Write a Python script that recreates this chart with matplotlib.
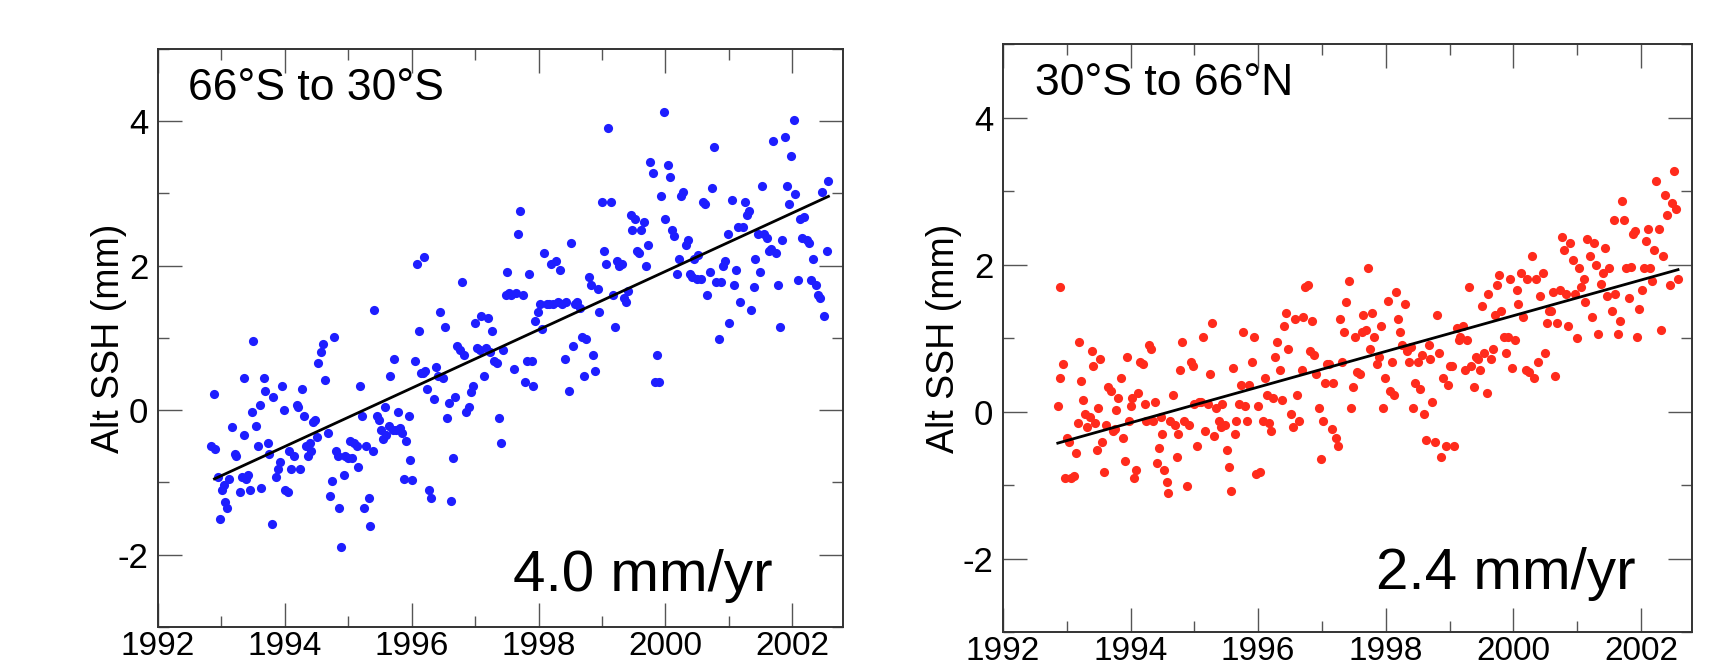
import numpy as np
import matplotlib
matplotlib.use("Agg")
import matplotlib.pyplot as plt
from matplotlib.ticker import MultipleLocator

plt.rcParams['font.family'] = ['Liberation Sans', 'DejaVu Sans']
plt.rcParams['axes.unicode_minus'] = False

# Données : (année, SSH en mm)
sud_pts = [
    (1992.89, 0.22), (1992.84, -0.49), (1992.90, -0.54), (1992.95, -0.92), (1992.97, -1.50),
    (1993.01, -1.10), (1993.04, -1.04), (1993.06, -1.27), (1993.09, -1.36), (1993.12, -0.95),
    (1993.16, -0.23), (1993.22, -0.60), (1993.23, -0.63), (1993.29, -1.13), (1993.32, -0.92),
    (1993.36, 0.45), (1993.36, -0.34), (1993.39, -0.95), (1993.42, -0.89), (1993.45, -1.10),
    (1993.48, -0.02), (1993.49, 0.96), (1993.55, -0.22), (1993.58, -0.49), (1993.61, 0.07),
    (1993.62, -1.07), (1993.67, 0.45), (1993.69, 0.27), (1993.73, -0.46), (1993.75, -0.60),
    (1993.79, -1.57), (1993.82, 0.19), (1993.86, -0.92), (1993.89, -0.81), (1993.93, -0.72),
    (1993.96, 0.33), (1993.98, 0.01), (1994.01, -1.10), (1994.05, -1.13), (1994.07, -0.57),
    (1994.10, -0.81), (1994.14, -0.63), (1994.19, 0.07), (1994.21, 0.04), (1994.24, -0.81),
    (1994.27, 0.30), (1994.30, -0.08), (1994.34, -0.49), (1994.36, -0.63), (1994.39, -0.46),
    (1994.41, -0.57), (1994.45, -0.16), (1994.47, -0.13), (1994.51, -0.37), (1994.53, 0.65),
    (1994.57, 0.80), (1994.60, 0.92), (1994.64, 0.42), (1994.68, -0.31), (1994.71, -1.19),
    (1994.74, -0.98), (1994.78, 1.01), (1994.81, -0.57), (1994.84, -0.63), (1994.86, -1.36),
    (1994.89, -1.89), (1994.93, -0.89), (1994.95, -0.63), (1994.99, -0.66), (1995.02, -0.43),
    (1995.06, -0.66), (1995.09, -0.46), (1995.13, -0.49), (1995.16, -0.78), (1995.19, 0.33),
    (1995.22, -0.08), (1995.25, -1.36), (1995.28, -0.49), (1995.32, -1.22), (1995.35, -1.60),
    (1995.39, -0.57), (1995.41, 1.39), (1995.45, -0.08), (1995.48, -0.13), (1995.52, -0.28),
    (1995.55, -0.40), (1995.58, 0.04), (1995.60, -0.34), (1995.64, -0.22), (1995.66, 0.48),
    (1995.70, -0.28), (1995.72, 0.71), (1995.76, -0.28), (1995.78, -0.02), (1995.82, -0.25),
    (1995.85, -0.31), (1995.88, -0.95), (1995.91, -0.43), (1995.95, -0.08), (1995.98, -0.69),
    (1996.01, -0.97), (1996.05, 0.68), (1996.08, 2.03), (1996.11, 1.09), (1996.15, 0.51),
    (1996.18, 0.51), (1996.20, 2.12), (1996.21, 0.54), (1996.24, 0.30), (1996.28, -1.10),
    (1996.31, -1.22), (1996.35, 0.16), (1996.38, 0.60), (1996.42, 0.48), (1996.45, 1.36),
    (1996.49, 0.45), (1996.52, 1.15), (1996.56, -0.11), (1996.59, 0.10), (1996.62, -1.25),
    (1996.65, -0.66), (1996.69, 0.19), (1996.72, 0.89), (1996.76, 0.83), (1996.79, 1.77),
    (1996.83, 0.77), (1996.86, -0.02), (1996.90, 0.04), (1996.93, 0.25), (1996.97, 0.33),
    (1997.00, 1.21), (1997.03, 0.86), (1997.07, 0.83), (1997.10, 1.30), (1997.14, 0.48),
    (1997.17, 0.86), (1997.21, 1.27), (1997.24, 0.80), (1997.27, 1.09), (1997.30, 0.68),
    (1997.34, 0.65), (1997.37, -0.11), (1997.41, -0.46), (1997.44, 0.83), (1997.48, 1.59),
    (1997.50, 1.91), (1997.54, 1.62), (1997.57, 1.59), (1997.61, 0.57), (1997.64, 1.62),
    (1997.68, 2.44), (1997.71, 2.76), (1997.75, 1.59), (1997.78, 0.39), (1997.82, 0.68),
    (1997.85, 1.88), (1997.89, 0.68), (1997.92, 0.33), (1997.95, 1.24), (1997.99, 1.36),
    (1998.02, 1.47), (1998.06, 1.12), (1998.09, 2.18), (1998.13, 1.47), (1998.16, 1.47),
    (1998.20, 2.03), (1998.23, 1.47), (1998.27, 2.06), (1998.30, 1.50), (1998.34, 1.94),
    (1998.37, 1.47), (1998.41, 0.71), (1998.44, 1.50), (1998.48, 0.27), (1998.51, 2.32),
    (1998.55, 0.89), (1998.58, 1.47), (1998.61, 1.50), (1998.65, 1.42), (1998.68, 1.01),
    (1998.72, 0.48), (1998.75, 0.98), (1998.79, 1.85), (1998.82, 1.74), (1998.86, 0.77),
    (1998.89, 0.54), (1998.93, 1.68), (1998.96, 1.36), (1999.00, 2.88), (1999.03, 2.20),
    (1999.07, 2.03), (1999.10, 3.90), (1999.14, 2.88), (1999.17, 1.59), (1999.20, 1.15),
    (1999.24, 2.06), (1999.27, 2.00), (1999.31, 2.03), (1999.34, 1.56), (1999.38, 1.50),
    (1999.41, 1.65), (1999.45, 2.70), (1999.48, 2.50), (1999.52, 2.64), (1999.55, 2.20),
    (1999.59, 2.18), (1999.62, 2.50), (1999.66, 2.61), (1999.69, 2.00), (1999.73, 2.29),
    (1999.76, 3.43), (1999.80, 3.29), (1999.83, 0.39), (1999.86, 0.77), (1999.90, 0.39),
    (1999.93, 2.96), (1999.97, 4.13), (2000.00, 2.64), (2000.04, 3.40), (2000.07, 3.23),
    (2000.11, 2.50), (2000.14, 2.41), (2000.18, 1.88), (2000.21, 2.09), (2000.25, 2.96),
    (2000.28, 3.02), (2000.32, 2.29), (2000.35, 2.35), (2000.39, 1.88), (2000.42, 1.85),
    (2000.45, 2.09), (2000.49, 1.82), (2000.52, 2.15), (2000.56, 1.82), (2000.59, 2.88),
    (2000.63, 2.85), (2000.66, 1.59), (2000.70, 1.91), (2000.73, 3.08), (2000.77, 3.64),
    (2000.80, 1.77), (2000.84, 0.98), (2000.87, 1.77), (2000.91, 2.00), (2000.94, 2.06),
    (2000.98, 2.44), (2001.01, 1.21), (2001.05, 2.91), (2001.08, 1.74), (2001.11, 1.94),
    (2001.15, 2.53), (2001.18, 1.50), (2001.22, 2.53), (2001.25, 2.88), (2001.29, 2.70),
    (2001.32, 2.76), (2001.35, 1.39), (2001.39, 1.71), (2001.42, 2.09), (2001.46, 2.44),
    (2001.49, 1.91), (2001.53, 3.11), (2001.56, 2.44), (2001.60, 2.38), (2001.64, 2.20),
    (2001.67, 2.23), (2001.70, 3.73), (2001.74, 2.18), (2001.77, 1.74), (2001.81, 1.15),
    (2001.84, 2.35), (2001.88, 3.78), (2001.91, 3.11), (2001.95, 2.85), (2001.98, 3.52),
    (2002.02, 4.02), (2002.05, 2.99), (2002.09, 1.80), (2002.12, 2.64), (2002.16, 2.38),
    (2002.19, 2.67), (2002.23, 2.35), (2002.26, 2.32), (2002.30, 1.80), (2002.33, 2.09),
    (2002.37, 1.74), (2002.40, 1.59), (2002.44, 1.56), (2002.47, 3.02), (2002.50, 1.30),
    (2002.54, 2.20), (2002.57, 3.17),
]

nord_pts = [
    (1992.86, 0.07), (1992.89, 0.45), (1992.90, 1.69), (1992.94, 0.65), (1992.97, -0.90),
    (1993.00, -0.36), (1993.04, -0.41), (1993.07, -0.90), (1993.11, -0.88), (1993.14, -0.56),
    (1993.17, -0.16), (1993.20, 0.94), (1993.22, 0.42), (1993.26, 0.16), (1993.29, -0.04),
    (1993.32, -0.21), (1993.36, -0.07), (1993.39, 0.82), (1993.41, 0.62), (1993.44, -0.16),
    (1993.47, -0.53), (1993.49, 0.05), (1993.52, 0.71), (1993.55, -0.41), (1993.59, -0.82),
    (1993.62, -0.18), (1993.65, 0.33), (1993.69, 0.28), (1993.72, -0.27), (1993.75, -0.24),
    (1993.78, 0.02), (1993.81, 0.19), (1993.85, 0.45), (1993.88, -0.36), (1993.91, -0.67),
    (1993.94, 0.74), (1993.97, -0.13), (1994.00, 0.07), (1994.03, 0.19), (1994.06, -0.90),
    (1994.08, -0.79), (1994.12, 0.25), (1994.15, 0.68), (1994.19, 0.65), (1994.22, 0.10),
    (1994.25, -0.13), (1994.29, 0.91), (1994.32, 0.85), (1994.35, -0.13), (1994.38, 0.13),
    (1994.41, -0.70), (1994.44, -0.50), (1994.47, -0.07), (1994.50, -0.30), (1994.53, -0.79),
    (1994.57, -0.96), (1994.59, -1.11), (1994.62, -0.13), (1994.66, 0.22), (1994.69, -0.18),
    (1994.73, -0.62), (1994.75, -0.30), (1994.78, 0.56), (1994.81, 0.94), (1994.84, -0.13),
    (1994.88, -1.02), (1994.91, -0.18), (1994.95, 0.68), (1994.98, 0.62), (1995.00, 0.10),
    (1995.04, -0.47), (1995.07, 0.13), (1995.11, 0.13), (1995.14, 1.02), (1995.17, -0.27),
    (1995.21, 0.10), (1995.24, 0.51), (1995.27, 1.20), (1995.31, -0.33), (1995.34, 0.05),
    (1995.38, -0.13), (1995.41, -0.21), (1995.44, 0.10), (1995.48, -0.18), (1995.51, -0.53),
    (1995.54, -0.76), (1995.58, -1.08), (1995.60, 0.59), (1995.64, -0.30), (1995.66, -0.13),
    (1995.70, 0.10), (1995.73, 0.36), (1995.76, 1.08), (1995.80, 0.07), (1995.83, -0.13),
    (1995.86, 0.36), (1995.90, 0.68), (1995.93, 1.02), (1995.97, -0.85), (1996.00, 0.07),
    (1996.03, -0.82), (1996.07, -0.13), (1996.10, 0.45), (1996.14, 0.22), (1996.17, -0.16),
    (1996.20, -0.27), (1996.24, 0.19), (1996.27, 0.74), (1996.30, 0.94), (1996.34, 0.56),
    (1996.37, 0.16), (1996.41, 1.17), (1996.44, 1.34), (1996.47, 0.85), (1996.51, -0.04),
    (1996.54, -0.21), (1996.57, 1.26), (1996.61, 0.22), (1996.64, -0.13), (1996.68, 0.56),
    (1996.71, 1.28), (1996.74, 1.69), (1996.78, 1.72), (1996.81, 0.82), (1996.84, 1.23),
    (1996.88, 0.77), (1996.91, 0.51), (1996.95, 0.05), (1996.98, -0.64), (1997.01, -0.13),
    (1997.05, 0.39), (1997.08, 0.65), (1997.11, 0.65), (1997.15, -0.24), (1997.18, 0.39),
    (1997.22, -0.36), (1997.25, -0.47), (1997.28, 1.26), (1997.32, 0.68), (1997.35, 1.08),
    (1997.38, 1.49), (1997.42, 1.77), (1997.45, 0.05), (1997.49, 0.33), (1997.52, 1.02),
    (1997.55, 0.54), (1997.59, 0.51), (1997.62, 1.08), (1997.65, 1.31), (1997.69, 1.11),
    (1997.72, 1.95), (1997.76, 0.85), (1997.79, 1.34), (1997.82, 1.02), (1997.86, 0.65),
    (1997.89, 0.74), (1997.92, 1.17), (1997.96, 0.05), (1997.99, 0.45), (1998.03, 1.51),
    (1998.06, 0.28), (1998.09, 0.68), (1998.13, 0.22), (1998.16, 1.63), (1998.19, 1.26),
    (1998.23, 1.08), (1998.26, 0.91), (1998.30, 1.46), (1998.33, 0.82), (1998.36, 0.68),
    (1998.40, 0.88), (1998.43, 0.05), (1998.46, 0.39), (1998.50, 0.68), (1998.53, 0.31),
    (1998.57, 0.77), (1998.60, -0.04), (1998.63, -0.39), (1998.67, 0.91), (1998.70, 0.71),
    (1998.73, 0.13), (1998.77, -0.41), (1998.80, 1.31), (1998.84, 0.79), (1998.87, -0.62),
    (1998.90, 0.45), (1998.94, -0.47), (1998.97, 0.36), (1999.00, 0.62), (1999.04, 0.62),
    (1999.07, -0.47), (1999.11, 1.14), (1999.14, 0.97), (1999.17, 1.02), (1999.21, 1.17),
    (1999.24, 0.56), (1999.27, 0.97), (1999.31, 1.69), (1999.34, 0.62), (1999.38, 0.33),
    (1999.41, 0.74), (1999.44, 0.71), (1999.48, 0.56), (1999.51, 1.43), (1999.54, 0.79),
    (1999.58, 0.25), (1999.61, 1.60), (1999.65, 0.71), (1999.68, 0.85), (1999.71, 1.31),
    (1999.75, 1.72), (1999.78, 1.86), (1999.81, 1.37), (1999.85, 1.02), (1999.88, 0.79),
    (1999.92, 1.02), (1999.95, 1.80), (1999.98, 0.59), (2000.02, 0.97), (2000.05, 1.66),
    (2000.08, 1.46), (2000.12, 1.89), (2000.15, 1.28), (2000.19, 0.56), (2000.22, 1.80),
    (2000.25, 0.54), (2000.29, 2.12), (2000.32, 0.45), (2000.35, 1.80), (2000.39, 0.68),
    (2000.42, 1.57), (2000.46, 1.89), (2000.49, 0.79), (2000.52, 1.20), (2000.56, 1.37),
    (2000.59, 1.37), (2000.62, 1.63), (2000.66, 0.48), (2000.69, 1.20), (2000.73, 1.66),
    (2000.76, 2.38), (2000.79, 2.20), (2000.83, 1.60), (2000.86, 1.17), (2000.89, 2.29),
    (2000.93, 2.06), (2000.96, 1.60), (2001.00, 1.00), (2001.03, 1.95), (2001.06, 1.69),
    (2001.10, 1.80), (2001.13, 1.49), (2001.16, 2.35), (2001.20, 2.12), (2001.23, 1.28),
    (2001.27, 2.29), (2001.30, 2.00), (2001.33, 1.05), (2001.37, 1.74), (2001.40, 1.89),
    (2001.43, 2.23), (2001.47, 1.57), (2001.50, 1.95), (2001.54, 1.37), (2001.57, 2.61),
    (2001.60, 1.60), (2001.64, 1.05), (2001.67, 1.23), (2001.70, 2.87), (2001.74, 2.61),
    (2001.77, 1.95), (2001.81, 1.54), (2001.84, 1.97), (2001.87, 2.41), (2001.91, 2.46),
    (2001.94, 1.02), (2001.97, 1.40), (2002.01, 1.66), (2002.04, 1.95), (2002.08, 2.32),
    (2002.11, 2.49), (2002.14, 1.95), (2002.18, 1.77), (2002.21, 2.20), (2002.24, 3.13),
    (2002.28, 2.49), (2002.31, 1.11), (2002.35, 2.12), (2002.38, 2.95), (2002.41, 2.67),
    (2002.45, 1.72), (2002.48, 2.84), (2002.51, 3.27), (2002.55, 2.75), (2002.58, 1.80),
]

# Droites de tendance (extrémités)
tend_annees_sud = [1992.89, 2002.57]
tend_sud = [-0.95, 2.96]
tend_annees_nord = [1992.86, 2002.58]
tend_nord = [-0.43, 1.93]

titres = ["66°S to 30°S", "30°S to 66°N"]
pentes = ["4.0 mm/yr", "2.4 mm/yr"]
couleurs = ["#1e1eff", "#ff2b1c"]

fig = plt.figure(figsize=(17.1, 6.62), dpi=100)
ax1 = fig.add_axes([0.0924, 0.0529, 0.4006, 0.8731])
ax2 = fig.add_axes([0.5865, 0.0453, 0.4030, 0.8882])

panneaux = [
    (ax1, sud_pts, tend_annees_sud, tend_sud, (1992.47, 4.3), (1997.6, -2.5), -0.045),
    (ax2, nord_pts, tend_annees_nord, tend_nord, (1992.5, 4.3), (1997.85, -2.41), -0.06),
]

for i, (ax, pts, ta, tv, pos_titre, pos_pente, xlab) in enumerate(panneaux):
    x, y = zip(*pts)
    ax.plot(x, y, 'o', ms=6.6, mew=0, color=couleurs[i], zorder=2)
    ax.plot(ta, tv, 'k-', lw=2.0, zorder=3)

    ax.set_xlim(1992, 2002.8)
    ax.set_ylim(-3, 5)
    ax.xaxis.set_major_locator(MultipleLocator(2))
    ax.xaxis.set_minor_locator(MultipleLocator(1))
    ax.yaxis.set_major_locator(MultipleLocator(2))
    ax.yaxis.set_minor_locator(MultipleLocator(1))
    ax.tick_params(which='both', direction='in', top=True, right=True,
                   color='#555555', width=1.0, labelsize=24)
    ax.tick_params(which='major', length=17)
    ax.tick_params(which='minor', length=8)
    ax.tick_params(axis='y', pad=7, labelsize=25)
    ax.tick_params(axis='x', pad=3)
    for s in ax.spines.values():
        s.set_linewidth(1.4)
        s.set_color('#333333')

    ax.set_ylabel("Alt SSH (mm)", fontsize=27)
    ax.yaxis.set_label_coords(xlab, 0.5)

    ax.text(pos_titre[0], pos_titre[1], titres[i], fontsize=32, va='baseline', ha='left')
    ax.text(pos_pente[0], pos_pente[1], pentes[i], fontsize=42, va='baseline', ha='left')

fig.savefig("out.png", dpi=100, facecolor='white')
